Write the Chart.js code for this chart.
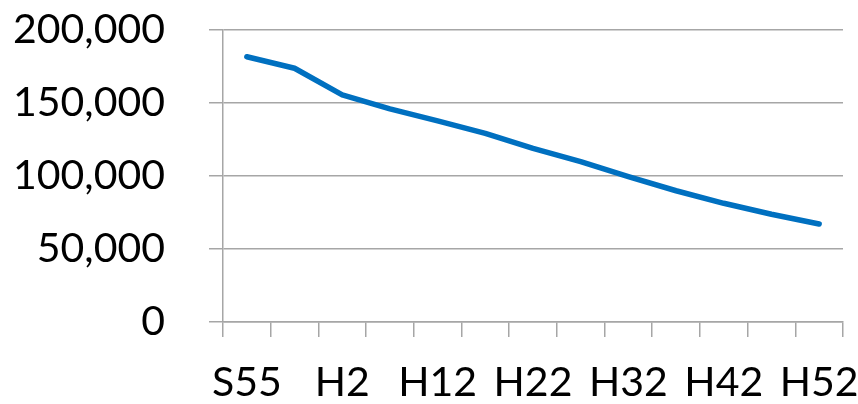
<!DOCTYPE html>
<html>
<head>
<meta charset="utf-8">
<script src="https://cdn.jsdelivr.net/npm/chart.js@4"></script>
<style>
  html, body { margin: 0; padding: 0; background: #fff; }
  #wrap { width: 858px; height: 404px; }
</style>
</head>
<body>
<div id="wrap"><canvas id="myChart1" width="858" height="404"></canvas></div>
<script>
  // Provided data
  const labels1 = ['S55', 'S60', 'H2', 'H7', 'H12', 'H17', 'H22', 'H27', 'H32', 'H37', 'H42', 'H47', 'H52'];
  const dataset1Data = [181700, 173800, 155500, 146000, 137800, 129200, 118900, 109800, 99500, 89900, 81300, 73800, 67100];
  const yTicks = [0, 50000, 100000, 150000, 200000];

  const gridColor = '#a6a6a6';
  const fontFamily = 'Lato, "Open Sans", sans-serif';

  // no extra padding from tick labels, the layout padding decides the plot area
  const noPad = (s) => { s.paddingTop = 0; s.paddingBottom = 0; s.paddingLeft = 0; s.paddingRight = 0; };

  const config1 = {
    type: 'line',
    data: {
      labels: labels1,
      datasets: [
        {
          label: 'Data',
          data: dataset1Data,
          borderColor: '#0070c0',
          borderWidth: 5.5,
          borderCapStyle: 'round',
          borderJoinStyle: 'round',
          pointRadius: 0,
          tension: 0,
          fill: false
        }
      ]
    },
    options: {
      responsive: false,
      animation: false,
      layout: { padding: { top: 30, right: 15, left: 0, bottom: 0 } },
      plugins: {
        legend: { display: false },
        title: { display: false },
        tooltip: { enabled: false }
      },
      scales: {
        x: {
          offset: true,
          grid: {
            offset: true,
            drawOnChartArea: false,
            drawTicks: true,
            tickLength: 15,
            color: gridColor,
            lineWidth: 1.5
          },
          border: { color: gridColor, width: 1.5 },
          ticks: {
            autoSkip: false,
            maxRotation: 0,
            padding: 25,
            color: '#000',
            font: { family: fontFamily, size: 41, lineHeight: 1 },
            callback: function (val, i) { return i % 2 === 0 ? this.getLabelForValue(val) : ''; }
          },
          afterFit: (s) => { s.height = 82; noPad(s); }
        },
        y: {
          min: 0,
          max: 200000,
          afterBuildTicks: (s) => { s.ticks = yTicks.map(v => ({ value: v })); },
          grid: {
            color: gridColor,
            lineWidth: 1.5,
            tickLength: 14
          },
          border: { color: gridColor, width: 1.5 },
          ticks: {
            padding: 44,
            color: '#000',
            font: { family: fontFamily, size: 41 },
            callback: (v) => v.toLocaleString('en-US')
          },
          afterFit: (s) => { s.width = 223; noPad(s); }
        }
      }
    }
  };

  const ctx = document.getElementById('myChart1').getContext('2d');
  const myChart1 = new Chart(ctx, config1);
</script>
</body>
</html>
